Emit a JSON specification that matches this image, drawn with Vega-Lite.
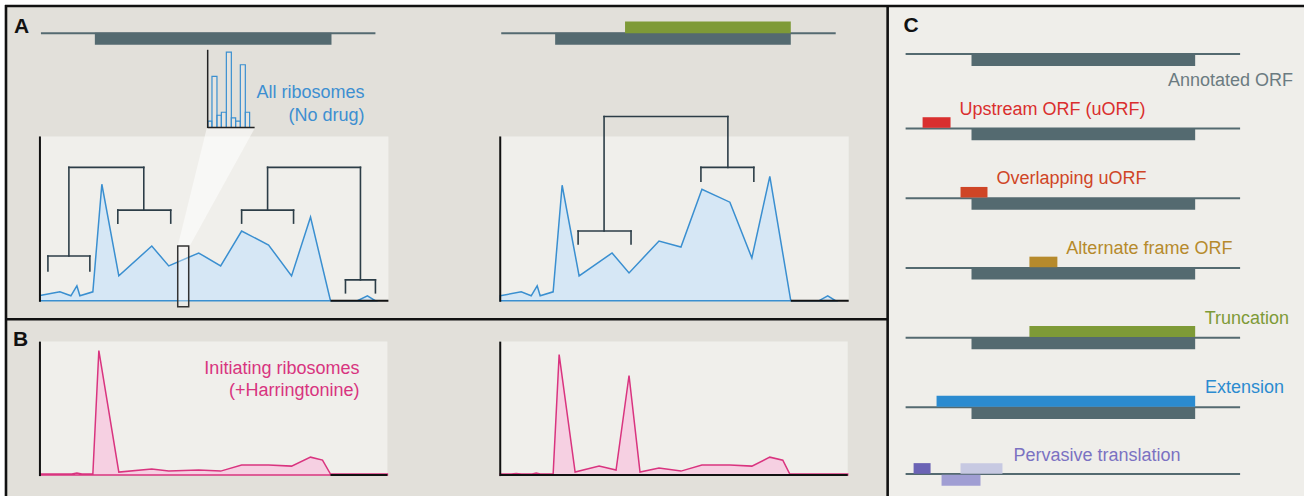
{
  "$schema": "https://vega.github.io/schema/vega-lite/v6.json",
  "width": 1306,
  "height": 498,
  "autosize": {"type": "fit", "contains": "padding"},
  "padding": 0,
  "background": "#ffffff",
  "config": {"view": {"stroke": null}},
  "resolve": {"scale": {"color": "independent"}},
  "datasets": {
    "shapes": [
      {"kind": "panelAB", "left": 6, "right": 889, "top": 6, "bottom": 498},
      {"kind": "panelC", "left": 889, "right": 1306, "top": 6, "bottom": 498},
      {"kind": "plot", "left": 40, "right": 389, "top": 137, "bottom": 302},
      {"kind": "plot", "left": 501, "right": 850, "top": 137, "bottom": 302},
      {"kind": "plot", "left": 40, "right": 388, "top": 343, "bottom": 477},
      {"kind": "plot", "left": 501, "right": 849, "top": 343, "bottom": 477},
      {"kind": "cds", "left": 41, "right": 376, "top": 32.3, "bottom": 34.5},
      {"kind": "cds", "left": 95, "right": 332, "top": 33, "bottom": 45},
      {"kind": "cds", "left": 502, "right": 837, "top": 32.3, "bottom": 34.5},
      {"kind": "cds", "left": 556, "right": 792, "top": 33, "bottom": 45},
      {"kind": "trunc", "left": 626, "right": 792, "top": 21.7, "bottom": 33.3},
      {"kind": "cds", "left": 907, "right": 1242, "top": 53.3, "bottom": 55.3},
      {"kind": "cds", "left": 973, "right": 1197, "top": 54.5, "bottom": 66.3},
      {"kind": "cds", "left": 907, "right": 1242, "top": 128, "bottom": 130},
      {"kind": "cds", "left": 973, "right": 1197, "top": 129, "bottom": 140.7},
      {"kind": "cds", "left": 907, "right": 1242, "top": 198, "bottom": 200},
      {"kind": "cds", "left": 973, "right": 1197, "top": 199, "bottom": 210.7},
      {"kind": "cds", "left": 907, "right": 1242, "top": 268, "bottom": 270},
      {"kind": "cds", "left": 973, "right": 1197, "top": 269, "bottom": 280.7},
      {"kind": "cds", "left": 907, "right": 1242, "top": 338, "bottom": 340},
      {"kind": "cds", "left": 973, "right": 1197, "top": 339, "bottom": 350.7},
      {"kind": "cds", "left": 907, "right": 1242, "top": 408, "bottom": 410},
      {"kind": "cds", "left": 973, "right": 1197, "top": 409, "bottom": 420.7},
      {"kind": "cds", "left": 907, "right": 1242, "top": 475, "bottom": 477},
      {"kind": "uorf", "left": 924, "right": 952, "top": 117.7, "bottom": 128.3},
      {"kind": "overlap", "left": 962, "right": 989, "top": 187.7, "bottom": 198.3},
      {"kind": "altframe", "left": 1031, "right": 1059, "top": 257.7, "bottom": 268.3},
      {"kind": "trunc", "left": 1031, "right": 1197, "top": 327.3, "bottom": 338.3},
      {"kind": "ext", "left": 938, "right": 1197, "top": 397.3, "bottom": 408.3},
      {"kind": "perv1", "left": 915, "right": 932, "top": 465, "bottom": 475.7},
      {"kind": "perv3", "left": 962, "right": 1004, "top": 465, "bottom": 475.7},
      {"kind": "perv2", "left": 943, "right": 982, "top": 476.7, "bottom": 487.7}
    ],
    "beam": [
      {"top": 129, "l": 207, "r": 255},
      {"top": 247, "l": 178, "r": 190}
    ],
    "allRibosomes": [
      {"series": "A1", "pos": 40, "val": 296.7}, {"series": "A1", "pos": 60, "val": 293},
      {"series": "A1", "pos": 71, "val": 297}, {"series": "A1", "pos": 77, "val": 287},
      {"series": "A1", "pos": 80, "val": 297}, {"series": "A1", "pos": 93, "val": 293},
      {"series": "A1", "pos": 102, "val": 185}, {"series": "A1", "pos": 119, "val": 277},
      {"series": "A1", "pos": 152, "val": 247}, {"series": "A1", "pos": 169, "val": 267},
      {"series": "A1", "pos": 199, "val": 254}, {"series": "A1", "pos": 221, "val": 267},
      {"series": "A1", "pos": 242, "val": 232}, {"series": "A1", "pos": 269, "val": 246},
      {"series": "A1", "pos": 292, "val": 277}, {"series": "A1", "pos": 311, "val": 218},
      {"series": "A1", "pos": 331, "val": 302}, {"series": "A1", "pos": 358, "val": 302},
      {"series": "A1", "pos": 368, "val": 297}, {"series": "A1", "pos": 376, "val": 302},
      {"series": "A2", "pos": 501, "val": 297}, {"series": "A2", "pos": 522, "val": 293},
      {"series": "A2", "pos": 532, "val": 297}, {"series": "A2", "pos": 538, "val": 287},
      {"series": "A2", "pos": 541, "val": 297}, {"series": "A2", "pos": 554, "val": 293},
      {"series": "A2", "pos": 563, "val": 186}, {"series": "A2", "pos": 580, "val": 277},
      {"series": "A2", "pos": 613, "val": 254}, {"series": "A2", "pos": 630, "val": 274},
      {"series": "A2", "pos": 660, "val": 242}, {"series": "A2", "pos": 682, "val": 248},
      {"series": "A2", "pos": 703, "val": 190}, {"series": "A2", "pos": 731, "val": 203},
      {"series": "A2", "pos": 753, "val": 259}, {"series": "A2", "pos": 771, "val": 177},
      {"series": "A2", "pos": 792, "val": 302}, {"series": "A2", "pos": 820, "val": 302},
      {"series": "A2", "pos": 829, "val": 297}, {"series": "A2", "pos": 837, "val": 302}
    ],
    "initiating": [
      {"series": "B1", "pos": 40, "val": 476}, {"series": "B1", "pos": 72, "val": 476},
      {"series": "B1", "pos": 77, "val": 475}, {"series": "B1", "pos": 82, "val": 476},
      {"series": "B1", "pos": 93, "val": 476}, {"series": "B1", "pos": 99, "val": 352},
      {"series": "B1", "pos": 119, "val": 474}, {"series": "B1", "pos": 152, "val": 471},
      {"series": "B1", "pos": 169, "val": 473}, {"series": "B1", "pos": 199, "val": 472},
      {"series": "B1", "pos": 221, "val": 473}, {"series": "B1", "pos": 242, "val": 467},
      {"series": "B1", "pos": 269, "val": 467}, {"series": "B1", "pos": 292, "val": 468},
      {"series": "B1", "pos": 311, "val": 459}, {"series": "B1", "pos": 323, "val": 462},
      {"series": "B1", "pos": 331, "val": 476}, {"series": "B1", "pos": 388, "val": 476},
      {"series": "B2", "pos": 501, "val": 476}, {"series": "B2", "pos": 512, "val": 476},
      {"series": "B2", "pos": 517, "val": 475.5}, {"series": "B2", "pos": 522, "val": 476},
      {"series": "B2", "pos": 533, "val": 476}, {"series": "B2", "pos": 537, "val": 475},
      {"series": "B2", "pos": 541, "val": 476}, {"series": "B2", "pos": 554, "val": 476},
      {"series": "B2", "pos": 560, "val": 356}, {"series": "B2", "pos": 576, "val": 474},
      {"series": "B2", "pos": 600, "val": 468}, {"series": "B2", "pos": 617, "val": 472},
      {"series": "B2", "pos": 630, "val": 377}, {"series": "B2", "pos": 641, "val": 474},
      {"series": "B2", "pos": 660, "val": 470}, {"series": "B2", "pos": 682, "val": 473},
      {"series": "B2", "pos": 703, "val": 467}, {"series": "B2", "pos": 731, "val": 467},
      {"series": "B2", "pos": 753, "val": 468}, {"series": "B2", "pos": 771, "val": 459},
      {"series": "B2", "pos": 784, "val": 462}, {"series": "B2", "pos": 791, "val": 476},
      {"series": "B2", "pos": 849, "val": 476}
    ],
    "axes": [
      {"a": 40, "b": 40, "c": 137, "d": 303},
      {"a": 331, "b": 389, "c": 302, "d": 302},
      {"a": 501, "b": 501, "c": 137, "d": 303},
      {"a": 792, "b": 850, "c": 302, "d": 302},
      {"a": 40, "b": 40, "c": 343, "d": 478},
      {"a": 331, "b": 388, "c": 477, "d": 477},
      {"a": 501, "b": 501, "c": 343, "d": 478},
      {"a": 501, "b": 849, "c": 477, "d": 477}
    ],
    "brackets": [
      {"a": 48, "b": 90, "c": 257, "d": 257}, {"a": 48, "b": 48, "c": 257, "d": 272}, {"a": 90, "b": 90, "c": 257, "d": 272},
      {"a": 118, "b": 171, "c": 211, "d": 211}, {"a": 118, "b": 118, "c": 211, "d": 224}, {"a": 171, "b": 171, "c": 211, "d": 224},
      {"a": 69, "b": 144, "c": 168, "d": 168}, {"a": 69, "b": 69, "c": 168, "d": 257}, {"a": 144, "b": 144, "c": 168, "d": 211},
      {"a": 242, "b": 294, "c": 211, "d": 211}, {"a": 242, "b": 242, "c": 211, "d": 224}, {"a": 294, "b": 294, "c": 211, "d": 224},
      {"a": 346, "b": 376, "c": 281, "d": 281}, {"a": 346, "b": 346, "c": 281, "d": 294}, {"a": 376, "b": 376, "c": 281, "d": 294},
      {"a": 268, "b": 361, "c": 168, "d": 168}, {"a": 268, "b": 268, "c": 168, "d": 211}, {"a": 361, "b": 361, "c": 168, "d": 281},
      {"a": 579, "b": 632, "c": 232, "d": 232}, {"a": 579, "b": 579, "c": 232, "d": 245}, {"a": 632, "b": 632, "c": 232, "d": 245},
      {"a": 702, "b": 755, "c": 168, "d": 168}, {"a": 702, "b": 702, "c": 168, "d": 182}, {"a": 755, "b": 755, "c": 168, "d": 182},
      {"a": 605, "b": 729, "c": 117, "d": 117}, {"a": 605, "b": 605, "c": 117, "d": 232}, {"a": 729, "b": 729, "c": 117, "d": 168}
    ],
    "insetAxes": [
      {"a": 208, "b": 208, "c": 50, "d": 128.5},
      {"a": 208, "b": 255, "c": 128, "d": 128}
    ],
    "insetBars": [
      {"left": 208.3, "right": 212.3, "top": 121.7},
      {"left": 212.3, "right": 217.3, "top": 76.7},
      {"left": 217.3, "right": 221.7, "top": 115.7},
      {"left": 221.7, "right": 226.7, "top": 112.7},
      {"left": 226.7, "right": 231.7, "top": 52.3},
      {"left": 231.7, "right": 236, "top": 118.3},
      {"left": 236, "right": 240.7, "top": 121.7},
      {"left": 240.7, "right": 245.7, "top": 65},
      {"left": 245.7, "right": 250, "top": 112.7}
    ],
    "window": [
      {"left": 178, "right": 189, "top": 247, "bottom": 308}
    ],
    "frames": [
      {"a": 5, "b": 1306, "c": 6, "d": 6},
      {"a": 6, "b": 6, "c": 5, "d": 498},
      {"a": 6, "b": 889, "c": 320.5, "d": 320.5},
      {"a": 889, "b": 889, "c": 6, "d": 498}
    ],
    "panelLabels": [
      {"label": "A", "tx": 14, "ty": 33},
      {"label": "B", "tx": 13, "ty": 347},
      {"label": "C", "tx": 905, "ty": 32}
    ],
    "rightTexts": [
      {"label": "All ribosomes", "kind": "all", "tx": 365, "ty": 98},
      {"label": "(No drug)", "kind": "all", "tx": 365, "ty": 121},
      {"label": "Initiating ribosomes", "kind": "init", "tx": 360, "ty": 376},
      {"label": "(+Harringtonine)", "kind": "init", "tx": 360, "ty": 398},
      {"label": "Annotated ORF", "kind": "annot", "tx": 1295, "ty": 86},
      {"label": "Truncation", "kind": "trunc", "tx": 1291, "ty": 325},
      {"label": "Extension", "kind": "ext", "tx": 1286, "ty": 395}
    ],
    "leftTexts": [
      {"label": "Upstream ORF (uORF)", "kind": "uorf", "tx": 961, "ty": 115},
      {"label": "Overlapping uORF", "kind": "overlap", "tx": 998, "ty": 185},
      {"label": "Alternate frame ORF", "kind": "altframe", "tx": 1068, "ty": 255},
      {"label": "Pervasive translation", "kind": "perv", "tx": 1015, "ty": 463}
    ]
  },
  "layer": [
    {
      "data": {"name": "shapes"},
      "mark": {"type": "rect", "opacity": 1},
      "encoding": {
        "x": {"field": "left", "type": "quantitative", "scale": {"domain": [0, 1306], "nice": false, "zero": false}, "axis": null},
        "x2": {"field": "right"},
        "y": {"field": "top", "type": "quantitative", "scale": {"domain": [0, 498], "reverse": true, "nice": false, "zero": false}, "axis": null},
        "y2": {"field": "bottom"},
        "color": {"field": "kind", "type": "nominal", "legend": null,
          "scale": {"domain": ["panelAB", "panelC", "plot", "cds", "uorf", "overlap", "altframe", "trunc", "ext", "perv1", "perv2", "perv3"],
                    "range": ["#e2e0da", "#efeeea", "#f0efeb", "#546a70", "#d92f2f", "#cf4526", "#b68a2c", "#7e9a37", "#2b8bd0", "#6b63b5", "#a09ed3", "#c7c9e2"]}}
      }
    },
    {
      "data": {"name": "beam"},
      "mark": {"type": "area", "orient": "horizontal", "fill": "#ffffff", "opacity": 0.55},
      "encoding": {
        "y": {"field": "top", "type": "quantitative", "scale": {"domain": [0, 498], "reverse": true, "nice": false, "zero": false}, "axis": null},
        "x": {"field": "l", "type": "quantitative", "scale": {"domain": [0, 1306], "nice": false, "zero": false}, "axis": null},
        "x2": {"field": "r"}
      }
    },
    {
      "data": {"name": "allRibosomes"},
      "mark": {"type": "area", "fill": "#d6e7f5", "stroke": "#3a8fd0", "strokeWidth": 1.5, "opacity": 1},
      "encoding": {
        "x": {"field": "pos", "type": "quantitative", "scale": {"domain": [0, 1306], "nice": false, "zero": false}, "axis": null},
        "y": {"field": "val", "type": "quantitative", "stack": null, "scale": {"domain": [0, 498], "reverse": true, "nice": false, "zero": false}, "axis": null},
        "y2": {"datum": 302},
        "detail": {"field": "series", "type": "nominal"}
      }
    },
    {
      "data": {"name": "initiating"},
      "mark": {"type": "area", "fill": "#f6d0e2", "stroke": "#d9347f", "strokeWidth": 1.5, "opacity": 1},
      "encoding": {
        "x": {"field": "pos", "type": "quantitative", "scale": {"domain": [0, 1306], "nice": false, "zero": false}, "axis": null},
        "y": {"field": "val", "type": "quantitative", "stack": null, "scale": {"domain": [0, 498], "reverse": true, "nice": false, "zero": false}, "axis": null},
        "y2": {"datum": 477},
        "detail": {"field": "series", "type": "nominal"}
      }
    },
    {
      "data": {"name": "axes"},
      "mark": {"type": "rule", "color": "#111111", "strokeWidth": 2},
      "encoding": {
        "x": {"field": "a", "type": "quantitative", "scale": {"domain": [0, 1306], "nice": false, "zero": false}, "axis": null},
        "x2": {"field": "b"},
        "y": {"field": "c", "type": "quantitative", "scale": {"domain": [0, 498], "reverse": true, "nice": false, "zero": false}, "axis": null},
        "y2": {"field": "d"}
      }
    },
    {
      "data": {"name": "brackets"},
      "mark": {"type": "rule", "color": "#2c3d47", "strokeWidth": 1.6, "strokeCap": "square"},
      "encoding": {
        "x": {"field": "a", "type": "quantitative", "scale": {"domain": [0, 1306], "nice": false, "zero": false}, "axis": null},
        "x2": {"field": "b"},
        "y": {"field": "c", "type": "quantitative", "scale": {"domain": [0, 498], "reverse": true, "nice": false, "zero": false}, "axis": null},
        "y2": {"field": "d"}
      }
    },
    {
      "data": {"name": "insetBars"},
      "mark": {"type": "rect", "fill": "#f0efeb", "fillOpacity": 0.3, "stroke": "#3a8fd0", "strokeWidth": 1.2},
      "encoding": {
        "x": {"field": "left", "type": "quantitative", "scale": {"domain": [0, 1306], "nice": false, "zero": false}, "axis": null},
        "x2": {"field": "right"},
        "y": {"field": "top", "type": "quantitative", "scale": {"domain": [0, 498], "reverse": true, "nice": false, "zero": false}, "axis": null},
        "y2": {"datum": 128}
      }
    },
    {
      "data": {"name": "insetAxes"},
      "mark": {"type": "rule", "color": "#222222", "strokeWidth": 1.5},
      "encoding": {
        "x": {"field": "a", "type": "quantitative", "scale": {"domain": [0, 1306], "nice": false, "zero": false}, "axis": null},
        "x2": {"field": "b"},
        "y": {"field": "c", "type": "quantitative", "scale": {"domain": [0, 498], "reverse": true, "nice": false, "zero": false}, "axis": null},
        "y2": {"field": "d"}
      }
    },
    {
      "data": {"name": "window"},
      "mark": {"type": "rect", "fill": "#ffffff", "fillOpacity": 0.35, "stroke": "#333333", "strokeWidth": 1.5},
      "encoding": {
        "x": {"field": "left", "type": "quantitative", "scale": {"domain": [0, 1306], "nice": false, "zero": false}, "axis": null},
        "x2": {"field": "right"},
        "y": {"field": "top", "type": "quantitative", "scale": {"domain": [0, 498], "reverse": true, "nice": false, "zero": false}, "axis": null},
        "y2": {"field": "bottom"}
      }
    },
    {
      "data": {"name": "frames"},
      "mark": {"type": "rule", "color": "#111111", "strokeWidth": 2.6},
      "encoding": {
        "x": {"field": "a", "type": "quantitative", "scale": {"domain": [0, 1306], "nice": false, "zero": false}, "axis": null},
        "x2": {"field": "b"},
        "y": {"field": "c", "type": "quantitative", "scale": {"domain": [0, 498], "reverse": true, "nice": false, "zero": false}, "axis": null},
        "y2": {"field": "d"}
      }
    },
    {
      "data": {"name": "panelLabels"},
      "mark": {"type": "text", "align": "left", "baseline": "alphabetic", "font": "Liberation Sans", "fontSize": 21, "fontWeight": "bold", "color": "#111111"},
      "encoding": {
        "x": {"field": "tx", "type": "quantitative", "scale": {"domain": [0, 1306], "nice": false, "zero": false}, "axis": null},
        "y": {"field": "ty", "type": "quantitative", "scale": {"domain": [0, 498], "reverse": true, "nice": false, "zero": false}, "axis": null},
        "text": {"field": "label", "type": "nominal"}
      }
    },
    {
      "data": {"name": "rightTexts"},
      "mark": {"type": "text", "align": "right", "baseline": "alphabetic", "font": "Liberation Sans", "fontSize": 18},
      "encoding": {
        "x": {"field": "tx", "type": "quantitative", "scale": {"domain": [0, 1306], "nice": false, "zero": false}, "axis": null},
        "y": {"field": "ty", "type": "quantitative", "scale": {"domain": [0, 498], "reverse": true, "nice": false, "zero": false}, "axis": null},
        "text": {"field": "label", "type": "nominal"},
        "color": {"field": "kind", "type": "nominal", "legend": null,
          "scale": {"domain": ["all", "init", "annot", "trunc", "ext"], "range": ["#3d8fd1", "#d8347f", "#6b7b81", "#7e9a37", "#2b8bd0"]}}
      }
    },
    {
      "data": {"name": "leftTexts"},
      "mark": {"type": "text", "align": "left", "baseline": "alphabetic", "font": "Liberation Sans", "fontSize": 18},
      "encoding": {
        "x": {"field": "tx", "type": "quantitative", "scale": {"domain": [0, 1306], "nice": false, "zero": false}, "axis": null},
        "y": {"field": "ty", "type": "quantitative", "scale": {"domain": [0, 498], "reverse": true, "nice": false, "zero": false}, "axis": null},
        "text": {"field": "label", "type": "nominal"},
        "color": {"field": "kind", "type": "nominal", "legend": null,
          "scale": {"domain": ["uorf", "overlap", "altframe", "perv"], "range": ["#da2e2e", "#cf4526", "#b68a2c", "#7b72c2"]}}
      }
    }
  ]
}
